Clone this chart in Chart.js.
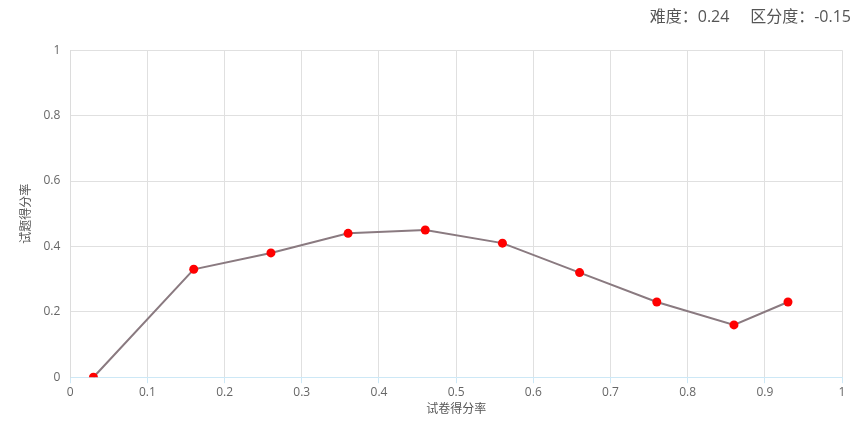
<!DOCTYPE html>
<html>
<head>
<meta charset="utf-8">
<script src="https://cdn.jsdelivr.net/npm/chart.js@4.4.1/dist/chart.umd.min.js"></script>
<style>
    html, body { margin: 0; padding: 0; background: #fff; }
    #wrap { width: 863px; height: 429px; position: relative; }
</style>
</head>
<body>
<div id="wrap"><canvas id="myChart"></canvas></div>
<script>
// 试卷得分率 / 试题得分率
var paperRates = [0.03, 0.16, 0.26, 0.36, 0.46, 0.56, 0.66, 0.76, 0.86, 0.93];
var itemRates = [0, 0.33, 0.38, 0.44, 0.45, 0.41, 0.32, 0.23, 0.16, 0.23];
var difficulty = '0.24';
var discrimination = '-0.15';

var fontFamily = '"Open Sans", "Noto Sans CJK SC", sans-serif';
var myChart = null;

var points = [];
for (var i = 0; i < paperRates.length; i++) {
    points.push({ x: paperRates[i], y: itemRates[i] });
}

// plain number labels: 1 instead of 1.0
function plainTick(value) {
    return String(Math.round(value * 10) / 10);
}

var ctx = document.getElementById('myChart').getContext('2d');
myChart = new Chart(ctx, {
    type: 'line',
    data: {
        datasets: [{
            data: points,
            borderColor: 'rgb(138, 122, 128)',
            borderWidth: 2,
            tension: 0,
            pointRadius: 4.5,
            pointBackgroundColor: 'rgb(255, 0, 0)',
            pointBorderColor: 'rgb(255, 0, 0)',
            pointBorderWidth: 0
        }]
    },
    options: {
        responsive: true,
        maintainAspectRatio: false,
        animation: false,
        layout: {
            padding: { left: 19, right: 12, top: 8, bottom: 12 }
        },
        plugins: {
            legend: { display: false },
            tooltip: { enabled: false },
            title: {
                display: true,
                align: 'end',
                text: '难度：' + difficulty + '     区分度：' + discrimination,
                color: '#555',
                font: { family: fontFamily, size: 16, weight: 'normal' },
                padding: { top: 0, bottom: 23 }
            }
        },
        scales: {
            x: {
                type: 'linear',
                min: 0,
                max: 1,
                ticks: {
                    stepSize: 0.1,
                    color: '#666',
                    padding: 2,
                    font: { family: fontFamily, size: 12 },
                    callback: plainTick
                },
                grid: {
                    color: '#e0e0e0',
                    tickColor: '#cde8f6',
                    tickLength: 6
                },
                border: { color: '#cde8f6', width: 1 },
                title: {
                    display: true,
                    text: '试卷得分率',
                    color: '#555',
                    font: { family: fontFamily, size: 12 },
                    padding: { top: 1, bottom: 0 }
                }
            },
            y: {
                min: 0,
                max: 1,
                ticks: {
                    stepSize: 0.2,
                    color: '#666',
                    padding: 10,
                    font: { family: fontFamily, size: 12 },
                    callback: plainTick
                },
                grid: {
                    color: '#e0e0e0',
                    drawTicks: false
                },
                border: { color: '#dcdcdc', width: 1 },
                title: {
                    display: true,
                    text: '试题得分率',
                    color: '#555',
                    font: { family: fontFamily, size: 12 },
                    padding: { top: 0, bottom: 0 }
                }
            },
            // empty right gutter so the title can sit further right than the plot
            gutter: {
                position: 'right',
                display: true,
                grid: { display: false },
                border: { display: false },
                ticks: { display: false },
                afterFit: function (scale) {
                    scale.width = 9;
                }
            }
        }
    }
});
</script>
</body>
</html>
